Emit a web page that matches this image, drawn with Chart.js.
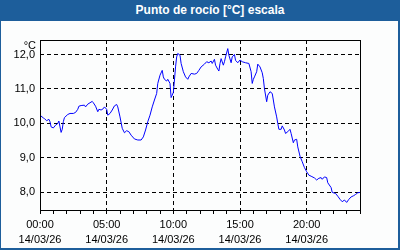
<!DOCTYPE html>
<html>
<head>
<meta charset="utf-8">
<script src="https://cdn.jsdelivr.net/npm/chart.js@4"></script>
<style>
  html, body { margin: 0; padding: 0; background: #fcfdfd; }
  #wrap { position: relative; width: 400px; height: 250px; overflow: hidden; }
  #title {
    position: absolute; left: 0; top: 0; width: 380px; height: 21px; padding-left: 20px;
    background: #1d5e9b; color: #fff; text-align: center;
    font: bold 12px "Liberation Sans", sans-serif; line-height: 21px; z-index: 2;
  }
  #frame {
    position: absolute; left: 0; top: 0; width: 397px; height: 248px;
    border-left: 1px solid #1d5e9b; border-right: 2px solid #1d5e9b;
    border-bottom: 2px solid #1d5e9b; z-index: 2; pointer-events: none;
  }
  canvas { position: absolute; left: 0; top: 0; }
</style>
</head>
<body>
<div id="wrap">
  <div id="title">Punto de rocío [°C] escala</div>
  <div id="frame"></div>
  <canvas id="dewChart" width="400" height="250"></canvas>
</div>
<script>
// minutes since 00:00 on 14/03/26
const times = [0,15,20,30,40,45,50,60,70,80,85,90,95,100,105,110,125,135,150,160,
  170,175,185,200,205,215,225,235,240,250,260,265,275,285,290,300,305,315,325,335,
  345,350,360,370,380,390,400,410,425,440,455,465,475,485,495,505,515,525,530,540,
  550,555,560,570,575,585,590,600,605,610,615,620,630,635,645,655,665,670,680,695,
  705,715,725,740,750,760,770,775,785,790,800,805,810,815,825,830,835,845,850,860,
  865,875,880,890,900,910,925,940,950,955,960,965,975,980,990,1000,1005,1010,1020,1025,
  1035,1045,1050,1055,1065,1070,1075,1085,1090,1100,1105,1115,1125,1130,1140,1145,1155,1160,1170,1180,
  1190,1200,1210,1220,1235,1245,1255,1265,1270,1280,1290,1295,1310,1315,1330,1340,1350,1360,1370,1380,
  1390,1400,1410,1420,1430,1440];
const dewPoint = [10.24,10.16,10.14,10.08,10.12,10.05,9.90,9.87,9.95,10.00,10.07,9.90,9.74,9.83,10.05,10.17,10.26,10.29,10.29,10.32,
  10.41,10.50,10.52,10.53,10.48,10.56,10.60,10.64,10.60,10.50,10.34,10.41,10.39,10.43,10.48,10.41,10.24,10.29,10.39,10.51,
  10.55,10.48,10.19,9.86,9.73,9.79,9.76,9.66,9.55,9.52,9.52,9.61,9.81,10.05,10.24,10.48,10.68,10.87,11.16,11.40,
  11.54,11.35,11.28,11.23,11.28,11.16,10.75,10.90,11.26,11.64,11.93,12.03,11.98,11.74,11.50,11.35,11.28,11.35,11.45,11.43,
  11.45,11.54,11.64,11.72,11.79,11.76,11.81,11.74,11.86,11.69,11.57,11.52,11.74,11.88,11.69,11.79,11.93,12.17,11.98,11.76,
  11.93,12.00,11.83,11.76,11.84,11.79,11.76,11.74,11.50,11.16,11.28,11.35,11.50,11.72,11.64,11.47,11.30,11.01,10.63,10.82,
  10.92,10.87,10.68,10.48,10.19,10.00,9.83,9.83,9.93,9.81,9.71,9.76,9.83,9.71,9.44,9.52,9.54,9.32,9.05,8.89,
  8.72,8.60,8.50,8.47,8.42,8.36,8.41,8.43,8.38,8.45,8.43,8.28,8.14,8.00,7.97,7.89,7.80,7.73,7.78,7.71,
  7.80,7.87,7.90,7.94,7.99,8.00];
const yTicks = [8, 9, 10, 11, 12];
const dateLabel = "14/03/26";

function hhmm(m) {
  const h = Math.floor(m / 60), mm = m % 60;
  return String(h).padStart(2, "0") + ":" + String(mm).padStart(2, "0");
}

const points = times.map((t, i) => ({ x: t, y: dewPoint[i] }));

const frameBox = {
  id: "frameBox",
  afterDraw(chart) {
    const { ctx, chartArea: a } = chart;
    ctx.save();
    ctx.strokeStyle = "#000";
    ctx.lineWidth = 1;
    ctx.strokeRect(a.left + 0.5, a.top + 0.5, a.right - a.left, a.bottom - a.top);
    ctx.fillStyle = "#000";
    ctx.font = "11px 'Liberation Sans', sans-serif";
    ctx.textAlign = "right";
    ctx.textBaseline = "middle";
    ctx.fillText("°C", 36, 46);
    ctx.restore();
  }
};

const data = {
  datasets: [{
    data: points,
    borderColor: "#0000ff",
    borderWidth: 1,
    pointRadius: 0,
    tension: 0,
    fill: false
  }]
};

const config = {
  type: "line",
  data,
  options: {
    responsive: false,
    animation: false,
    layout: { padding: { left: 0, right: 40, top: 40, bottom: 0 } },
    plugins: { legend: { display: false }, tooltip: { enabled: false } },
    scales: {
      x: {
        type: "linear",
        min: 0,
        max: 1440,
        afterFit: (s) => { s.height = 40; },
        border: { display: false, dash: [4, 3] },
        grid: {
          color: (c) => (c.tick && c.tick.value % 300 === 0 ? "#000" : "rgba(0,0,0,0)"),
          tickColor: "#000",
          tickLength: 4,
          lineWidth: 1
        },
        ticks: {
          stepSize: 60,
          autoSkip: false,
          maxRotation: 0,
          padding: 4,
          color: "#000",
          font: { family: "Liberation Sans", size: 11, lineHeight: 1.35 },
          callback: (v) => (v % 300 === 0 && v < 1440 ? [hhmm(v), dateLabel] : "")
        }
      },
      y: {
        min: 7.49,
        max: 12.42,
        afterFit: (s) => { s.width = 40; },
        afterBuildTicks: (s) => { s.ticks = yTicks.map((v) => ({ value: v })); },
        border: { display: false, dash: [4, 3] },
        grid: { color: "#000", drawTicks: false, lineWidth: 1 },
        ticks: {
          padding: 5,
          color: "#000",
          font: { family: "Liberation Sans", size: 11 },
          callback: (v) => v.toFixed(1).replace(".", ",")
        }
      }
    }
  },
  plugins: [frameBox]
};

const myChart = new Chart(document.getElementById("dewChart"), config);
</script>
</body>
</html>
